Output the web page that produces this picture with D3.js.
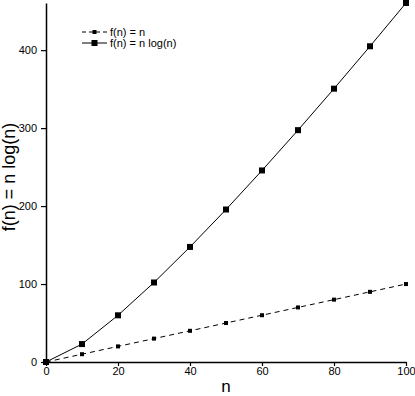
<!DOCTYPE html>
<html>
<head>
<meta charset="utf-8">
<script src="https://cdn.jsdelivr.net/npm/d3@7"></script>
<style>
  html, body { margin: 0; padding: 0; background: #fff; }
  svg { display: block; font-family: "Liberation Sans", Arial, Helvetica, sans-serif; }
</style>
</head>
<body>
<svg id="chart" width="415" height="396"></svg>
<script>
// ---- data ----
const nValues = [0, 10, 20, 30, 40, 50, 60, 70, 80, 90, 100];
const linearValues = [0, 10, 20, 30, 40, 50, 60, 70, 80, 90, 100];
const nlognValues = [0, 23.0, 59.9, 102.0, 147.6, 195.6, 245.7, 297.4, 350.6, 405.0, 460.5];
const xTicks = [0, 20, 40, 60, 80, 100];
const yTicks = [0, 100, 200, 300, 400];
const seriesNames = ["f(n) = n", "f(n) = n log(n)"];
const xLabel = "n";
const yLabel = "f(n) = n log(n)";

// ---- layout ----
const svg = d3.select("#chart");
const x = d3.scaleLinear().domain([0, 100]).range([46, 406]);
const y = d3.scaleLinear().domain([0, 460.5]).range([362, 3]);

// axes
const xAxis = svg.append("g")
  .attr("transform", `translate(0,${y(0)})`)
  .call(d3.axisBottom(x).tickValues(xTicks).tickSize(4).tickPadding(1).tickSizeOuter(0));
const yAxis = svg.append("g")
  .attr("transform", `translate(${x(0)},0)`)
  .call(d3.axisLeft(y).tickValues(yTicks).tickSize(5).tickPadding(4).tickSizeOuter(0));
[xAxis, yAxis].forEach(g => {
  g.select(".domain").attr("stroke", "#000").attr("stroke-width", 1.5);
  g.selectAll(".tick line").attr("stroke", "#000").attr("stroke-width", 1.2);
  g.selectAll(".tick text").attr("fill", "#000").style("font-size", "11px")
    .style("font-family", '"Liberation Sans", Arial, Helvetica, sans-serif');
});

// axis titles
svg.append("text")
  .attr("x", (x(0) + x(100)) / 2).attr("y", 392)
  .attr("text-anchor", "middle").style("font-size", "17px").text(xLabel);
svg.append("text")
  .attr("transform", "translate(15,177) rotate(-90)")
  .attr("text-anchor", "middle").style("font-size", "18px").text(yLabel);

// lines
const ptsLin = nValues.map((n, i) => [n, linearValues[i]]);
const ptsLog = nValues.map((n, i) => [n, nlognValues[i]]);
const line = d3.line().x(d => x(d[0])).y(d => y(d[1]));

svg.append("path").datum(ptsLin).attr("d", line)
  .attr("fill", "none").attr("stroke", "#000").attr("stroke-width", 1)
  .attr("stroke-dasharray", "5,4");
svg.append("path").datum(ptsLog).attr("d", line)
  .attr("fill", "none").attr("stroke", "#000").attr("stroke-width", 1);

// markers
const sLin = 4, sLog = 6;
svg.selectAll("rect.lin").data(ptsLin).enter().append("rect")
  .attr("x", d => x(d[0]) - sLin / 2).attr("y", d => y(d[1]) - sLin / 2)
  .attr("width", sLin).attr("height", sLin).attr("fill", "#000");
svg.selectAll("rect.log").data(ptsLog).enter().append("rect")
  .attr("x", d => x(d[0]) - sLog / 2).attr("y", d => y(d[1]) - sLog / 2)
  .attr("width", sLog).attr("height", sLog).attr("fill", "#000");

// legend
const legend = svg.append("g");
const rows = [
  { name: seriesNames[0], dash: "4,3", size: sLin, yy: 32 },
  { name: seriesNames[1], dash: null, size: sLog, yy: 43 }
];
rows.forEach(r => {
  legend.append("line").attr("x1", 82).attr("x2", 107).attr("y1", r.yy).attr("y2", r.yy)
    .attr("stroke", "#000").attr("stroke-width", 1)
    .attr("stroke-dasharray", r.dash);
  legend.append("rect").attr("x", 94.5 - r.size / 2).attr("y", r.yy - r.size / 2)
    .attr("width", r.size).attr("height", r.size).attr("fill", "#000");
  legend.append("text").attr("x", 110).attr("y", r.yy).attr("dy", "0.35em")
    .style("font-size", "11px").text(r.name);
});
</script>
</body>
</html>
